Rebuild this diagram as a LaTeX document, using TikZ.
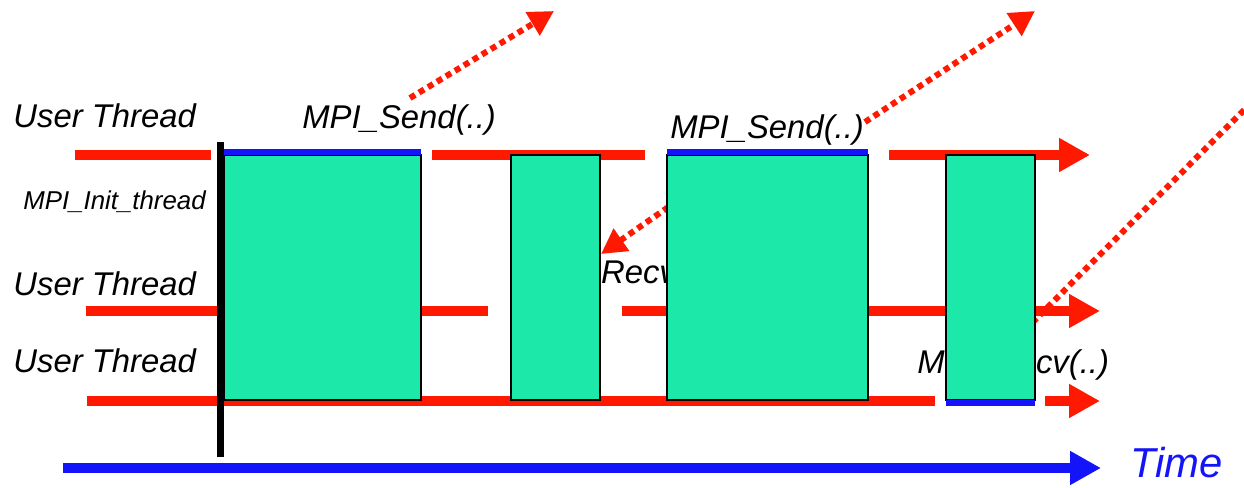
\documentclass[tikz,border=0pt]{standalone}
\usepackage{fontspec}
\setmainfont{Liberation Sans}
\usetikzlibrary{arrows.meta}
\definecolor{lanered}{RGB}{255,25,0}
\definecolor{timeblue}{RGB}{20,20,250}
\definecolor{workgreen}{RGB}{28,233,169}
\tikzset{>={Triangle[length=0.62cm,width=0.64cm]}}

\begin{document}
\begin{tikzpicture}[x=0.02cm,y=-0.02cm,
    lane/.style={draw=lanered,line width=0.2cm},
    msg/.style={draw=lanered,line width=0.12cm,dash pattern=on 0.12cm off 0.09cm,
        -{Triangle[length=0.5cm,width=0.52cm]}},
    work/.style={fill=workgreen,draw=black,line width=0.6pt},
    busy/.style={draw=timeblue,line width=0.12cm},
    txt/.style={font=\itshape\fontsize{18.7}{22}\selectfont,anchor=base west,inner sep=0pt}]
    \useasboundingbox (0,0) rectangle (1244,487);
    % messages and labels that the work boxes cover
    \node[txt] (recv1) at (524,283) {MPI\_Recv(..)};
    \node[txt] (recv2) at (917,373) {MPI\_Recv(..)};
    \coordinate (r1a) at (720,171); \coordinate (r1b) at (601,254);
    \coordinate (r2a) at (1244,110); \coordinate (r2b) at (1000,355);
    \draw[msg] (r1a) -- (r1b);
    % thread lanes
    \draw[lane] (75,155) -- (211,155);
    \draw[lane] (432,155) -- (645,155);
    \draw[lane,->] (889,155) -- (1090,155);
    \draw[lane] (86,311) -- (488,311);
    \draw[lane,->] (622,311) -- (1100,311);
    \draw[lane] (87,401) -- (935,401);
    \draw[lane,->] (1045,401) -- (1100,401);
    \draw[msg] (r2a) -- (r2b);
    % work boxes
    \foreach \L/\R in {224/421,511/600,667/868,946/1035}
    {\draw[work] (\L,155) rectangle (\R,400);}
    \draw[busy] (224,152) -- (421,152);
    \draw[busy] (667,152) -- (868,152);
    \draw[busy] (946,403) -- (1035,403);
    \draw[line width=0.14cm] (220.5,142) -- (220.5,457);
    % time axis
    \draw[draw=timeblue,line width=0.2cm,->] (63,468) -- (1101,468);
    \node[txt,text=timeblue,font=\itshape\fontsize{23.8}{28}\selectfont] (time) at (1130,477) {Time};
    % labels
    \node[txt] (ut1) at (13,127) {User Thread};
    \node[txt] (ut2) at (13,295) {User Thread};
    \node[txt] (ut3) at (13,372) {User Thread};
    \node[txt,font=\itshape\fontsize{14.7}{17}\selectfont] (init) at (23,209) {MPI\_Init\_thread};
    \node[txt] (send1) at (302,128) {MPI\_Send(..)};
    \node[txt] (send2) at (670,138) {MPI\_Send(..)};
    % outgoing sends
    \coordinate (s1a) at (410,98); \coordinate (s1b) at (554,11);
    \coordinate (s2a) at (865,122); \coordinate (s2b) at (1035,11);
    \draw[msg] (s1a) -- (s1b);
    \draw[msg] (s2a) -- (s2b);
\end{tikzpicture}
\end{document}
